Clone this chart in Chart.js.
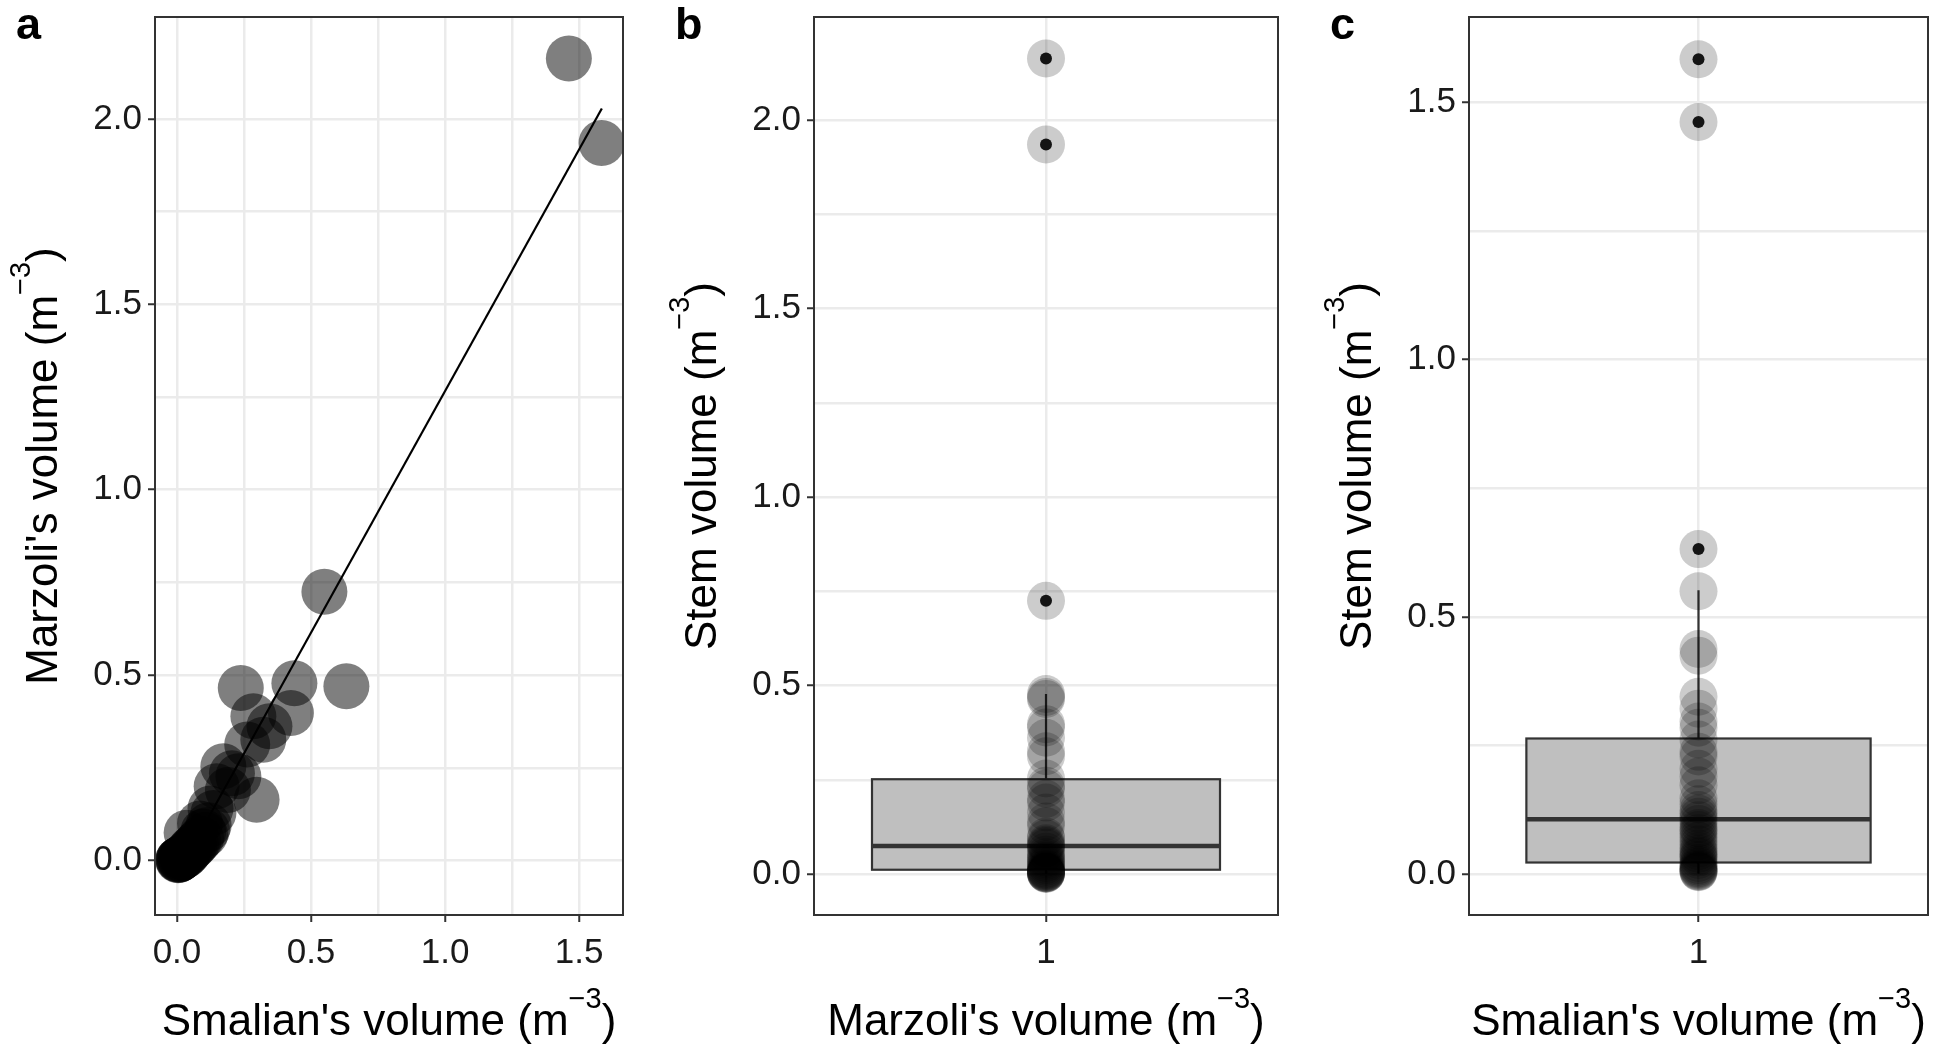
<!DOCTYPE html>
<html>
<head>
<meta charset="utf-8">
<script src="https://cdn.jsdelivr.net/npm/chart.js@4.4.1/dist/chart.umd.min.js"></script>
<style>
  body {
    margin: 0;
    background: white;
    width: 1947px;
    height: 1052px;
    overflow: hidden;
  }
  canvas {
    position: absolute;
    top: 0;
  }
  #chartA { left: 0; }
  #chartB { left: 645px; }
  #chartC { left: 1300px; }
</style>
</head>
<body>
<canvas id="chartA" width="645" height="1052"></canvas>
<canvas id="chartB" width="655" height="1052"></canvas>
<canvas id="chartC" width="647" height="1052"></canvas>

<script>
  // one entry per tree (m3)
  const smalian = [
    1.462, 1.584, 0.550, 0.632, 0.238, 0.438, 0.425, 0.285, 0.345, 0.322, 0.262,
    0.173, 0.229, 0.297, 0.148, 0.205, 0.190, 0.136, 0.086, 0.036, 0.125, 0.118,
    0.112, 0.105, 0.098, 0.090, 0.080, 0.072, 0.065, 0.058, 0.050, 0.045, 0.040,
    0.033, 0.028, 0.022, 0.018, 0.015, 0.012, 0.010, 0.008, 0.006, 0.005, 0.004
  ]
  const marzoli = [
    2.163, 1.935, 0.725, 0.470, 0.465, 0.478, 0.398, 0.389, 0.362, 0.326, 0.313,
    0.254, 0.227, 0.164, 0.200, 0.235, 0.190, 0.128, 0.100, 0.075, 0.140, 0.095,
    0.082, 0.070, 0.078, 0.060, 0.052, 0.045, 0.040, 0.035, 0.030, 0.025, 0.020,
    0.015, 0.012, 0.010, 0.008, 0.006, 0.005, 0.004, 0.003, 0.002, 0.002, 0.001
  ]

  // fitted line end points (panel a)
  const fitX = [0.0, 1.585]
  const fitY = [-0.037, 2.028]

  // box stats: [lower whisker, q1, median, q3, upper whisker]
  const marzoliBox = [0.001, 0.012, 0.075, 0.252, 0.478]
  const smalianBox = [0.001, 0.023, 0.107, 0.264, 0.552]

  // axis breaks and labels
  const aXBreaks = [0, 0.5, 1, 1.5]
  const aXLabels = ['0.0', '0.5', '1.0', '1.5']
  const aXMinor = [0.25, 0.75, 1.25]
  const abYBreaks = [0, 0.5, 1, 1.5, 2]
  const abYLabels = ['0.0', '0.5', '1.0', '1.5', '2.0']
  const abYMinor = [0.25, 0.75, 1.25, 1.75]
  const cYBreaks = [0, 0.5, 1, 1.5]
  const cYLabels = ['0.0', '0.5', '1.0', '1.5']
  const cYMinor = [0.25, 0.75, 1.25]
  const boxBreaks = [1]
  const boxLabels = ['1']

  // axis limits (ggplot style 5% expansion)
  const aXLim = [-0.082, 1.664]
  const aYLim = [-0.147, 2.275]
  const bYLim = [-0.108, 2.273]
  const cYLim = [-0.079, 1.666]
  const boxXLim = [0.4, 1.6]

  const FONT = 'Liberation Sans'
  const BOX_HALF = 0.45

  function axis(breaks, labels, minor, lim, size, horizontal) {
    return {
      type: 'linear',
      position: horizontal ? 'bottom' : 'left',
      min: lim[0],
      max: lim[1],
      afterBuildTicks: scale => {
        scale.ticks = breaks.concat(minor).sort((a, b) => a - b).map(v => ({ value: v }))
      },
      afterFit: scale => {
        if (horizontal) scale.height = size
        else scale.width = size
        // keep the plot box where it is, labels may overflow
        scale.paddingTop = 0
        scale.paddingBottom = 0
        scale.paddingLeft = 0
        scale.paddingRight = 0
      },
      border: { display: false },
      grid: {
        color: '#ebebeb',
        lineWidth: 2.5,
        tickLength: 7,
        tickWidth: 2,
        tickColor: ctx => breaks.indexOf(ctx.tick.value) >= 0 ? '#333333' : 'rgba(0,0,0,0)'
      },
      ticks: {
        autoSkip: false,
        maxRotation: 0,
        padding: horizontal ? 10 : 6,
        color: '#1a1a1a',
        font: { family: FONT, size: 35 },
        callback: v => {
          const i = breaks.indexOf(v)
          return i >= 0 ? labels[i] : ''
        }
      }
    }
  }

  function drawTitle(ctx, parts, x, y, rotate) {
    ctx.save()
    ctx.translate(x, y)
    if (rotate) ctx.rotate(-Math.PI / 2)
    ctx.fillStyle = '#000'
    ctx.textBaseline = 'alphabetic'
    ctx.textAlign = 'left'
    const big = '44px "' + FONT + '"'
    const small = '29px "' + FONT + '"'
    ctx.font = big
    const w0 = ctx.measureText(parts[0]).width
    const w2 = ctx.measureText(parts[2]).width
    ctx.font = small
    const w1 = ctx.measureText(parts[1]).width
    let cx = -(w0 + w1 + w2) / 2
    ctx.font = big
    ctx.fillText(parts[0], cx, 0)
    cx += w0
    ctx.font = small
    ctx.fillText(parts[1], cx, -27)
    cx += w1
    ctx.font = big
    ctx.fillText(parts[2], cx, 0)
    ctx.restore()
  }

  const panelDecor = {
    id: 'panelDecor',
    beforeDatasetsDraw(chart, args, opts) {
      if (!opts.box) return
      const { ctx, chartArea } = chart
      const x = chart.scales.x
      const y = chart.scales.y
      const [lo, q1, med, q3, hi] = opts.box
      const xc = x.getPixelForValue(1)
      const xl = x.getPixelForValue(1 - BOX_HALF)
      const xr = x.getPixelForValue(1 + BOX_HALF)
      ctx.save()
      ctx.beginPath()
      ctx.rect(chartArea.left, chartArea.top, chartArea.width, chartArea.height)
      ctx.clip()
      ctx.strokeStyle = '#333333'
      ctx.lineWidth = 2.2
      ctx.beginPath()
      ctx.moveTo(xc, y.getPixelForValue(q3))
      ctx.lineTo(xc, y.getPixelForValue(hi))
      ctx.moveTo(xc, y.getPixelForValue(q1))
      ctx.lineTo(xc, y.getPixelForValue(lo))
      ctx.stroke()
      const top = y.getPixelForValue(q3)
      const bot = y.getPixelForValue(q1)
      ctx.fillStyle = '#bfbfbf'
      ctx.fillRect(xl, top, xr - xl, bot - top)
      ctx.strokeRect(xl, top, xr - xl, bot - top)
      ctx.lineWidth = 4.5
      ctx.beginPath()
      ctx.moveTo(xl, y.getPixelForValue(med))
      ctx.lineTo(xr, y.getPixelForValue(med))
      ctx.stroke()
      ctx.restore()
    },
    afterDraw(chart, args, opts) {
      const { ctx, chartArea } = chart
      ctx.save()
      ctx.strokeStyle = '#333333'
      ctx.lineWidth = 2
      ctx.strokeRect(chartArea.left, chartArea.top, chartArea.width, chartArea.height)
      ctx.fillStyle = '#000'
      ctx.font = 'bold 45px "' + FONT + '"'
      ctx.textBaseline = 'alphabetic'
      ctx.fillText(opts.tag, chartArea.left - 139, 39)
      ctx.restore()
      drawTitle(ctx, opts.xTitle, (chartArea.left + chartArea.right) / 2, chartArea.bottom + 120, false)
      drawTitle(ctx, opts.yTitle, chartArea.left - 98, (chartArea.top + chartArea.bottom) / 2, true)
    }
  }

  function baseOptions(padRight) {
    return {
      responsive: false,
      animation: false,
      events: [],
      // big points would otherwise push the plot box inwards
      layout: { autoPadding: false, padding: { left: 0, top: 17, right: padRight, bottom: 0 } },
      plugins: {
        legend: { display: false },
        tooltip: { enabled: false }
      }
    }
  }

  // panel a: scatter + fitted line
  const optsA = baseOptions(22)
  optsA.scales = {
    x: axis(aXBreaks, aXLabels, aXMinor, aXLim, 137, true),
    y: axis(abYBreaks, abYLabels, abYMinor, aYLim, 155, false)
  }
  optsA.plugins.panelDecor = {
    tag: 'a',
    xTitle: ["Smalian's volume (m", '\u22123', ')'],
    yTitle: ["Marzoli's volume (m", '\u22123', ')']
  }
  new Chart(document.getElementById('chartA'), {
    type: 'scatter',
    data: {
      datasets: [
        {
          data: fitX.map((v, i) => ({ x: v, y: fitY[i] })),
          showLine: true,
          borderColor: '#000',
          borderWidth: 2.2,
          pointRadius: 0,
          clip: 0,
          order: 0
        },
        {
          data: smalian.map((v, i) => ({ x: v, y: marzoli[i] })),
          backgroundColor: 'rgba(0,0,0,0.5)',
          pointRadius: 23,
          pointBorderWidth: 0,
          clip: 0,
          order: 1
        }
      ]
    },
    options: optsA,
    plugins: [panelDecor]
  })

  function boxPanel(id, values, box, yBreaks, yLabels, yMinor, yLim, padRight, tag, xTitle) {
    const opts = baseOptions(padRight)
    opts.scales = {
      x: axis(boxBreaks, boxLabels, [], boxXLim, 137, true),
      y: axis(yBreaks, yLabels, yMinor, yLim, 169, false)
    }
    opts.plugins.panelDecor = {
      tag: tag,
      box: box,
      xTitle: xTitle,
      yTitle: ['Stem volume (m', '\u22123', ')']
    }
    // points past the 1.5 IQR fences get the boxplot outlier dot
    const iqr = box[3] - box[1]
    const outliers = values.filter(v => v > box[3] + 1.5 * iqr || v < box[1] - 1.5 * iqr)
    new Chart(document.getElementById(id), {
      type: 'scatter',
      data: {
        datasets: [
          {
            data: values.map(v => ({ x: boxBreaks[0], y: v })),
            backgroundColor: 'rgba(0,0,0,0.2)',
            pointRadius: 19,
            pointBorderWidth: 0,
            clip: 0,
            order: 1
          },
          {
            data: outliers.map(v => ({ x: boxBreaks[0], y: v })),
            backgroundColor: '#1a1a1a',
            pointRadius: 6,
            pointBorderWidth: 0,
            clip: 0,
            order: 2
          }
        ]
      },
      options: opts,
      plugins: [panelDecor]
    })
  }

  boxPanel('chartB', marzoli, marzoliBox, abYBreaks, abYLabels, abYMinor, bYLim, 22, 'b',
    ["Marzoli's volume (m", '\u22123', ')'])
  boxPanel('chartC', smalian, smalianBox, cYBreaks, cYLabels, cYMinor, cYLim, 19, 'c',
    ["Smalian's volume (m", '\u22123', ')'])
</script>
</body>
</html>
